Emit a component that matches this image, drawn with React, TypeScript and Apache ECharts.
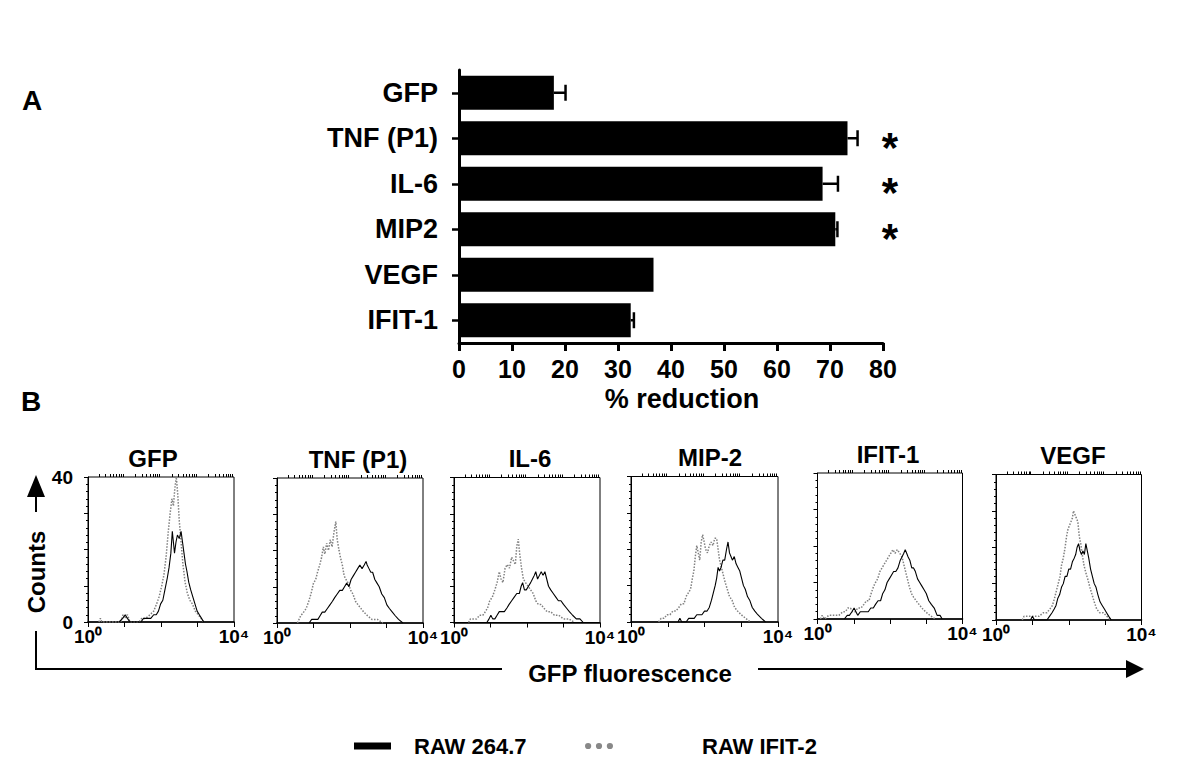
import React, { useEffect, useRef } from "react";
import * as echarts from "echarts";

const FONT = "'Liberation Sans', Arial, Helvetica, sans-serif";

// ---------- Panel A data ----------
const genes = ["GFP", "TNF (P1)", "IL-6", "MIP2", "VEGF", "IFIT-1"];
const reduction = [17.9, 73.3, 68.6, 71.0, 36.7, 32.4];
const reductionErr = [2.2, 1.9, 2.9, 0.4, 0, 0.6];
const significant = [false, true, true, true, false, false];
const reductionMin = 0;
const reductionMax = 80;
const reductionStep = 10;

// ---------- Panel B data ([log10 GFP fluorescence, counts]) ----------
const panelTitles = ["GFP", "TNF (P1)", "IL-6", "MIP-2", "IFIT-1", "VEGF"];
const fluorTickLabels = ["10\u2070", "10\u2074"];
const countTickLabels = ["0", "40"];
const seriesNames = ["RAW 264.7", "RAW IFIT-2"];

const gfpSolid = [[0.85,0],[0.95,1],[1.02,2],[1.08,1],[1.15,0],[1.45,0],[1.52,1],[1.62,1],[1.72,1],[1.8,2],[1.87,2],[1.93,3],[1.99,5],[2.05,6],[2.11,9],[2.17,12],[2.22,15],[2.27,19],[2.31,25],[2.34,22],[2.37,19],[2.41,22],[2.45,24],[2.5,23],[2.55,25],[2.59,22],[2.63,19],[2.67,16],[2.71,14],[2.76,11],[2.81,9],[2.87,7],[2.93,5],[2.99,3],[3.05,2],[3.11,1],[3.17,0]];
const gfpDotted = [[0.3,0],[0.34,1],[0.38,0],[0.9,0],[0.96,2],[1.02,1],[1.08,2],[1.15,0],[1.4,0],[1.47,1],[1.58,1],[1.7,2],[1.8,3],[1.88,5],[1.95,7],[2.02,10],[2.08,13],[2.14,18],[2.2,25],[2.25,30],[2.3,34],[2.34,32],[2.38,37],[2.42,40],[2.46,35],[2.5,28],[2.55,22],[2.6,16],[2.66,11],[2.72,8],[2.79,6],[2.86,5],[2.94,3],[3.02,2],[3.1,1],[3.17,0]];

const tnfSolid = [[0.88,0],[0.95,1],[1.05,1],[1.12,1],[1.18,2],[1.24,3],[1.31,3],[1.38,4],[1.45,5],[1.52,6],[1.58,7],[1.65,8],[1.72,9],[1.79,9],[1.85,10],[1.91,11],[1.97,10],[2.03,12],[2.09,13],[2.15,14],[2.21,15],[2.27,16],[2.33,15],[2.39,16],[2.44,17],[2.47,16],[2.52,15],[2.57,14],[2.62,14],[2.68,12],[2.74,11],[2.8,10],[2.87,8],[2.94,7],[3.01,5],[3.08,4],[3.16,3],[3.24,2],[3.33,1],[3.45,0]];
const tnfDotted = [[0.56,0],[0.65,2],[0.73,3],[0.8,4],[0.87,6],[0.93,8],[1.0,11],[1.06,12],[1.11,14],[1.17,16],[1.22,18],[1.27,21],[1.31,19],[1.36,22],[1.41,20],[1.46,23],[1.51,21],[1.56,25],[1.61,28],[1.65,23],[1.7,20],[1.74,18],[1.79,16],[1.84,13],[1.89,12],[1.95,11],[2.02,9],[2.08,8],[2.15,6],[2.22,5],[2.3,4],[2.38,3],[2.48,2],[2.6,1],[2.75,1],[2.9,0]];

const il6Solid = [[0.9,0],[0.96,1],[1.01,2],[1.06,1],[1.12,1],[1.18,2],[1.24,3],[1.31,3],[1.38,3],[1.45,4],[1.51,5],[1.58,6],[1.65,7],[1.72,8],[1.79,8],[1.84,10],[1.88,11],[1.93,9],[1.98,9],[2.04,10],[2.1,11],[2.15,12],[2.2,13],[2.24,14],[2.29,12],[2.34,13],[2.39,14],[2.44,13],[2.49,14],[2.54,12],[2.59,10],[2.65,9],[2.72,8],[2.79,7],[2.86,6],[2.93,6],[3.0,5],[3.08,4],[3.16,3],[3.25,2],[3.35,1],[3.45,1],[3.54,0]];
const il6Dotted = [[0.4,0],[0.45,1],[0.55,1],[0.62,1],[0.7,2],[0.79,2],[0.86,3],[0.92,4],[0.98,6],[1.05,7],[1.12,9],[1.18,11],[1.24,14],[1.29,12],[1.34,11],[1.4,15],[1.46,16],[1.52,15],[1.58,18],[1.63,17],[1.68,16],[1.72,21],[1.76,23],[1.8,19],[1.85,15],[1.9,12],[1.96,11],[2.03,10],[2.1,9],[2.17,8],[2.24,6],[2.31,5],[2.38,5],[2.46,4],[2.55,3],[2.65,3],[2.75,2],[2.87,2],[3.0,1],[3.15,1],[3.3,0]];

const mip2Solid = [[1.28,0],[1.33,1],[1.38,0],[1.5,0],[1.57,1],[1.65,1],[1.72,1],[1.79,2],[1.86,2],[1.93,2],[2.0,3],[2.07,3],[2.13,4],[2.19,6],[2.24,8],[2.29,10],[2.33,12],[2.37,15],[2.41,14],[2.45,15],[2.5,17],[2.55,17],[2.6,20],[2.64,22],[2.68,19],[2.72,18],[2.76,17],[2.81,18],[2.86,16],[2.91,15],[2.96,14],[3.01,12],[3.06,10],[3.11,9],[3.17,7],[3.23,6],[3.3,4],[3.37,3],[3.45,2],[3.55,1],[3.66,0]];
const mip2Dotted = [[0.75,0],[0.82,1],[0.9,1],[0.98,2],[1.06,2],[1.14,3],[1.22,3],[1.3,4],[1.37,5],[1.44,5],[1.5,7],[1.56,8],[1.62,9],[1.67,12],[1.71,14],[1.75,18],[1.79,21],[1.83,19],[1.87,17],[1.91,22],[1.95,24],[1.99,22],[2.03,20],[2.08,19],[2.13,21],[2.18,22],[2.23,21],[2.28,23],[2.33,23],[2.37,20],[2.41,17],[2.46,15],[2.51,13],[2.56,11],[2.62,9],[2.68,7],[2.75,6],[2.82,4],[2.9,3],[3.0,2],[3.12,1],[3.25,0]];

const ifit1Solid = [[0.74,0],[0.82,1],[0.88,1],[0.95,2],[1.01,3],[1.06,2],[1.11,1],[1.18,2],[1.25,2],[1.33,2],[1.4,2],[1.47,3],[1.54,3],[1.6,4],[1.67,5],[1.74,5],[1.8,7],[1.86,8],[1.92,10],[1.98,11],[2.04,12],[2.1,13],[2.16,13],[2.22,14],[2.28,16],[2.33,17],[2.38,18],[2.42,19],[2.46,18],[2.5,17],[2.55,16],[2.6,14],[2.65,14],[2.7,13],[2.76,11],[2.82,10],[2.88,9],[2.94,8],[3.0,7],[3.07,5],[3.14,4],[3.22,3],[3.3,1],[3.38,1],[3.44,0]];
const ifit1Dotted = [[0.08,0],[0.13,1],[0.2,0],[0.31,1],[0.45,1],[0.59,1],[0.7,2],[0.77,2],[0.84,3],[0.91,3],[0.97,2],[1.04,2],[1.11,3],[1.2,3],[1.28,4],[1.35,5],[1.42,5],[1.48,7],[1.55,9],[1.6,10],[1.66,11],[1.72,13],[1.78,14],[1.84,15],[1.9,16],[1.96,17],[2.02,18],[2.08,19],[2.14,18],[2.2,19],[2.27,18],[2.33,17],[2.38,15],[2.43,13],[2.48,11],[2.53,9],[2.59,7],[2.65,6],[2.72,5],[2.8,4],[2.88,3],[2.98,2],[3.1,1],[3.25,0]];

const vegfSolid = [[0.95,0],[1.0,1],[1.06,0],[1.4,0],[1.47,1],[1.54,2],[1.6,3],[1.65,4],[1.7,6],[1.75,7],[1.8,9],[1.85,10],[1.9,12],[1.95,12],[2.0,14],[2.05,14],[2.1,16],[2.15,17],[2.19,18],[2.23,20],[2.27,21],[2.31,19],[2.35,18],[2.39,19],[2.43,18],[2.47,21],[2.51,19],[2.55,17],[2.6,14],[2.65,12],[2.7,10],[2.75,9],[2.8,7],[2.86,5],[2.92,4],[2.98,3],[3.04,2],[3.1,1],[3.17,0]];
const vegfDotted = [[0.72,0],[0.77,1],[0.9,1],[1.05,1],[1.18,1],[1.3,2],[1.4,2],[1.48,3],[1.55,4],[1.61,6],[1.66,8],[1.71,10],[1.76,12],[1.8,15],[1.85,17],[1.9,20],[1.94,23],[1.98,25],[2.02,26],[2.06,27],[2.1,28],[2.13,30],[2.17,29],[2.21,28],[2.25,27],[2.29,23],[2.33,21],[2.37,18],[2.42,15],[2.47,13],[2.53,11],[2.58,9],[2.64,7],[2.7,5],[2.77,3],[2.85,2],[2.95,2],[3.05,1],[3.16,0]];

const solidSets = [gfpSolid, tnfSolid, il6Solid, mip2Solid, ifit1Solid, vegfSolid];
const dottedSets = [gfpDotted, tnfDotted, il6Dotted, mip2Dotted, ifit1Dotted, vegfDotted];

// ---------- layout (pixels) ----------
const boxes = [
  { left: 88, top: 477, width: 146, height: 145 },
  { left: 277, top: 478, width: 146, height: 145 },
  { left: 454, top: 477.5, width: 146, height: 145 },
  { left: 631, top: 476.5, width: 147, height: 145.5 },
  { left: 817.5, top: 473, width: 145, height: 146 },
  { left: 996, top: 474.5, width: 145.5, height: 145.5 },
];
const titleX = [153, 358, 530, 710, 888, 1073];

const minorLogTicks: number[] = [];
for (let d = 0; d < 4; d++) for (let m = 2; m <= 9; m++) minorLogTicks.push(d + Math.log10(m));

const bold = (size: number) => ({ fontFamily: FONT, fontWeight: "bold" as const, fontSize: size, color: "#000" });

function txt(size: number) {
  return { fontFamily: FONT, fontWeight: "bold", fontSize: size, fill: "#000" };
}

function buildOption() {
  const grids: any[] = [{ left: 459, top: 70, width: 424, height: 273 }];
  const xAxes: any[] = [
    {
      gridIndex: 0, type: "value", min: reductionMin, max: reductionMax, interval: reductionStep,
      axisLine: { show: true, lineStyle: { color: "#000", width: 3 } },
      axisTick: { show: true, length: 8, lineStyle: { color: "#000", width: 3 } },
      axisLabel: { ...bold(25), margin: 13 },
      splitLine: { show: false },
    },
  ];
  const yAxes: any[] = [
    {
      gridIndex: 0, type: "category", inverse: true, data: genes,
      axisLine: { show: true, lineStyle: { color: "#000", width: 3 } },
      axisTick: { show: true, alignWithLabel: true, length: 7, lineStyle: { color: "#000", width: 2.5 } },
      axisLabel: { ...bold(27), margin: 21 },
      splitLine: { show: false },
    },
  ];
  const series: any[] = [
    {
      type: "bar", xAxisIndex: 0, yAxisIndex: 0, data: reduction, barWidth: 34,
      itemStyle: { color: "#000" }, silent: true,
    },
    {
      type: "custom", xAxisIndex: 0, yAxisIndex: 0, clip: false, silent: true,
      encode: { x: 1, y: 0 },
      data: genes.map((g, i) => [i, reduction[i], reductionErr[i], significant[i] ? 1 : 0]),
      renderItem: (params: any, api: any) => {
        const idx = api.value(0);
        const mean = api.value(1);
        const err = api.value(2);
        const sig = api.value(3);
        const p0 = api.coord([mean, idx]);
        const p1 = api.coord([mean + err, idx]);
        const children: any[] = [];
        if (err > 0) {
          children.push({ type: "line", shape: { x1: p0[0], y1: p0[1], x2: p1[0], y2: p1[1] }, style: { stroke: "#000", lineWidth: 2.5 } });
          children.push({ type: "line", shape: { x1: p1[0], y1: p1[1] - 8, x2: p1[0], y2: p1[1] + 8 }, style: { stroke: "#000", lineWidth: 2.5 } });
        }
        if (sig) {
          const pe = api.coord([reductionMax, idx]);
          children.push({
            type: "text", x: pe[0] + 7, y: p0[1] + 9,
            style: { text: "*", fontFamily: FONT, fontWeight: "bold", fontSize: 42, fill: "#000", align: "center", verticalAlign: "middle" },
          });
        }
        return { type: "group", children };
      },
    },
  ];

  boxes.forEach((b, i) => {
    grids.push({ ...b, show: true, borderColor: "#000", borderWidth: 1, backgroundColor: "transparent" });
    xAxes.push({
      gridIndex: i + 1, type: "value", min: 0, max: 4, interval: 1,
      axisLine: { show: true, onZero: false, lineStyle: { color: "#000", width: 1.6 } },
      axisTick: { show: true, length: 5, lineStyle: { color: "#000", width: 1 } },
      axisLabel: {
        ...bold(19), margin: 5, showMinLabel: true, showMaxLabel: true,
        formatter: (v: number) => (v === 0 ? fluorTickLabels[0] : v === 4 ? fluorTickLabels[1] : ""),
      },
      splitLine: { show: false },
    });
    xAxes.push({
      gridIndex: i + 1, type: "value", min: 0, max: 4,
      axisLine: { show: false, onZero: false },
      axisTick: { show: true, length: 3, customValues: minorLogTicks, lineStyle: { color: "#000", width: 1 } },
      axisLabel: { show: false },
      splitLine: { show: false },
    });
    yAxes.push({
      gridIndex: i + 1, type: "value", min: 0, max: 40, interval: 10,
      axisLine: { show: true, onZero: false, lineStyle: { color: "#000", width: 1 } },
      axisTick: { show: true, length: 4, lineStyle: { color: "#000", width: 1 } },
      minorTick: { show: true, splitNumber: 5, length: 2, lineStyle: { color: "#000", width: 1 } },
      axisLabel: {
        show: i === 0, ...bold(19), margin: 15, showMinLabel: true, showMaxLabel: true,
        formatter: (v: number) => (v === 0 ? countTickLabels[0] : v === 40 ? countTickLabels[1] : ""),
      },
      splitLine: { show: false },
    });
    series.push({
      type: "line", name: seriesNames[1], xAxisIndex: 1 + 2 * i, yAxisIndex: 1 + i,
      data: dottedSets[i], symbol: "none", silent: true, z: 2,
      lineStyle: { color: "#808080", width: 1.5, type: "dotted" }, itemStyle: { color: "#808080" },
    });
    series.push({
      type: "line", name: seriesNames[0], xAxisIndex: 1 + 2 * i, yAxisIndex: 1 + i,
      data: solidSets[i], symbol: "none", silent: true, z: 3,
      lineStyle: { color: "#000", width: 1.1 }, itemStyle: { color: "#000" },
    });
  });

  const dotsIcon = "path://M0,4a4,4 0 1,0 8,0a4,4 0 1,0 -8,0M14,4a4,4 0 1,0 8,0a4,4 0 1,0 -8,0M28,4a4,4 0 1,0 8,0a4,4 0 1,0 -8,0";

  const graphic: any[] = [
    { type: "text", x: 32, y: 100, style: { text: "A", ...txt(28), align: "center", verticalAlign: "middle" } },
    { type: "text", x: 31, y: 401, style: { text: "B", ...txt(28), align: "center", verticalAlign: "middle" } },
    { type: "text", x: 682, y: 399, style: { text: "% reduction", ...txt(27), align: "center", verticalAlign: "middle" } },
    ...panelTitles.map((t, i) => ({
      type: "text", x: titleX[i], y: boxes[i].top - 19,
      style: { text: t, ...txt(24), align: "center", verticalAlign: "middle" },
    })),
    { type: "polygon", shape: { points: [[27, 497], [45, 497], [36, 475]] }, style: { fill: "#000" } },
    { type: "line", shape: { x1: 36, y1: 496, x2: 36, y2: 512 }, style: { stroke: "#000", lineWidth: 2 } },
    { type: "text", x: 36, y: 572, rotation: Math.PI / 2, style: { text: "Counts", ...txt(24), align: "center", verticalAlign: "middle" } },
    { type: "polyline", shape: { points: [[36, 631], [36, 669], [502, 669]] }, style: { stroke: "#000", lineWidth: 2, fill: null } },
    { type: "line", shape: { x1: 758, y1: 669, x2: 1128, y2: 669 }, style: { stroke: "#000", lineWidth: 2 } },
    { type: "polygon", shape: { points: [[1126, 660], [1126, 678], [1144, 669]] }, style: { fill: "#000" } },
    { type: "text", x: 630, y: 673, style: { text: "GFP fluorescence", ...txt(24), align: "center", verticalAlign: "middle" } },
  ];

  return {
    animation: false,
    backgroundColor: "#fff",
    grid: grids,
    xAxis: xAxes,
    yAxis: yAxes,
    series,
    legend: [
      {
        left: 349, top: 730, selectedMode: false, itemWidth: 37, itemHeight: 7,
        data: [{ name: seriesNames[0], icon: "rect", itemStyle: { color: "#000", borderWidth: 0 } }],
        textStyle: { ...bold(22), padding: [0, 0, 0, 18] },
      },
      {
        left: 580, top: 730, selectedMode: false, itemWidth: 28, itemHeight: 7,
        data: [{ name: seriesNames[1], icon: dotsIcon, itemStyle: { color: "#888", borderWidth: 0 } }],
        textStyle: { ...bold(22), padding: [0, 0, 0, 84] },
      },
    ],
    graphic,
  };
}

export default function App() {
  const ref = useRef<HTMLDivElement>(null);
  useEffect(() => {
    if (!ref.current) return;
    const chart = echarts.init(ref.current, undefined, { renderer: "svg" });
    chart.setOption(buildOption() as any);
    return () => chart.dispose();
  }, []);
  return <div ref={ref} style={{ position: "absolute", left: 0, top: 0, width: 1200, height: 772 }} />;
}
